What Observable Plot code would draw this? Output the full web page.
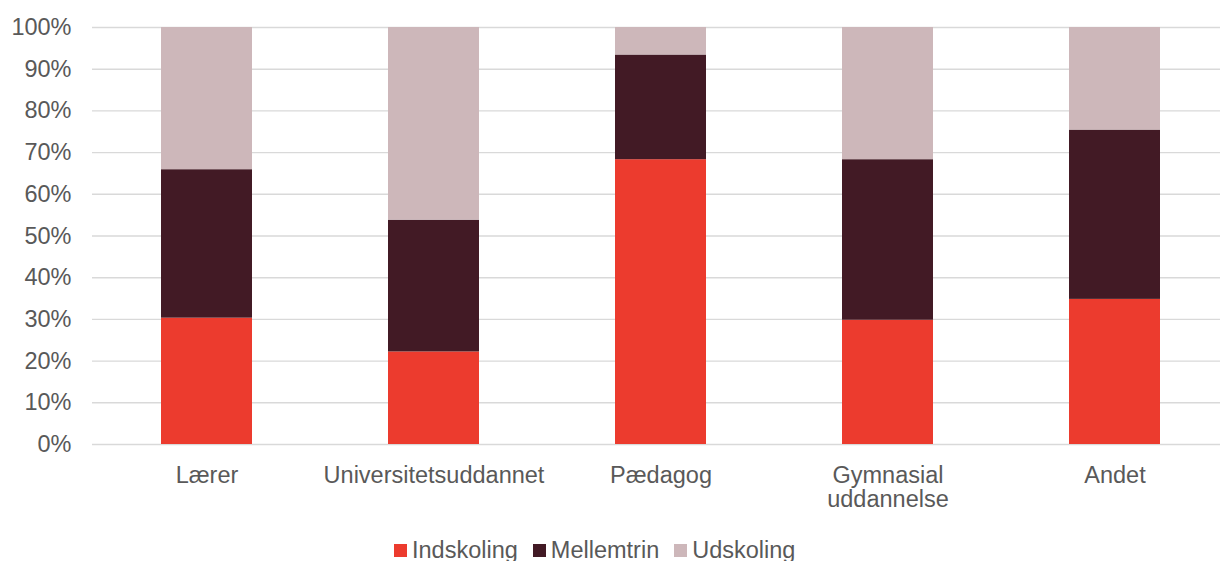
<!DOCTYPE html>
<html>
<head>
<meta charset="utf-8">
<script src="https://cdn.jsdelivr.net/npm/d3@7"></script>
<script src="https://cdn.jsdelivr.net/npm/@observablehq/plot@0.6"></script>
<style>
  html, body { margin: 0; padding: 0; background: #fff; overflow: hidden; }
  #wrap { position: relative; width: 1220px; height: 561px; font-family: "Liberation Sans", Arial, sans-serif; }
  #legend { position: absolute; left: 394px; top: 539px; display: flex; align-items: center; font-size: 23.5px; line-height: 23px; color: #595959; white-space: nowrap; }
  .sw { width: 13px; height: 13px; display: inline-block; margin-right: 5px; }
  .item { display: flex; align-items: center; margin-right: 15px; }
</style>
</head>
<body>
<div id="wrap">
  <div id="chart"></div>
  <div id="legend"></div>
</div>
<script>
const categories = ["Lærer", "Universitetsuddannet", "Pædagog", "Gymnasial uddannelse", "Andet"];
const series = ["Indskoling", "Mellemtrin", "Udskoling"];
const colors = ["#EC3B2E", "#421A25", "#CDB7BA"];
const indskoling = [30.3, 22.2, 68.3, 29.8, 34.8];
const mellemtrin = [35.6, 31.6, 25.1, 38.5, 40.6];
const udskoling  = [34.1, 46.2, 6.6, 31.7, 24.6];
const yTicks = [0, 10, 20, 30, 40, 50, 60, 70, 80, 90, 100];

const values = [indskoling, mellemtrin, udskoling];
const data = [];
series.forEach((s, si) => categories.forEach((c, ci) => data.push({category: c, series: s, value: values[si][ci]})));

const textColor = "#595959";

const chart = Plot.plot({
  width: 1220,
  height: 530,
  marginLeft: 92,
  marginRight: 0,
  marginTop: 27,
  marginBottom: 86,
  style: {fontFamily: "'Liberation Sans', Arial, sans-serif", fontSize: "23.5px", color: textColor, background: "#fff"},
  x: {domain: categories, range: [90.5, 1229.5], paddingInner: 0.6, paddingOuter: 0.3, label: null},
  y: {domain: [0, 100], label: null},
  color: {domain: series, range: colors},
  marks: [
    Plot.ruleY(yTicks, {stroke: "#d9d9d9", strokeWidth: 1.4}),
    Plot.barY(data, {x: "category", y: "value", fill: "series", order: series, inset: 0}),
    Plot.axisY(yTicks, {tickSize: 0, tickPadding: 21, tickFormat: d => d + "%", fontSize: 23.5, fill: textColor}),
    Plot.axisX({tickSize: 0, tickPadding: 20.5, fontSize: 23.5, fill: textColor, lineHeight: 1.05,
      tickFormat: d => d === "Gymnasial uddannelse" ? "Gymnasial\nuddannelse" : d})
  ]
});
document.getElementById("chart").appendChild(chart);

const legend = document.getElementById("legend");
series.forEach((s, i) => {
  const item = document.createElement("span");
  item.className = "item";
  const sw = document.createElement("span");
  sw.className = "sw";
  sw.style.background = colors[i];
  item.appendChild(sw);
  item.appendChild(document.createTextNode(s));
  legend.appendChild(item);
});
</script>
</body>
</html>
